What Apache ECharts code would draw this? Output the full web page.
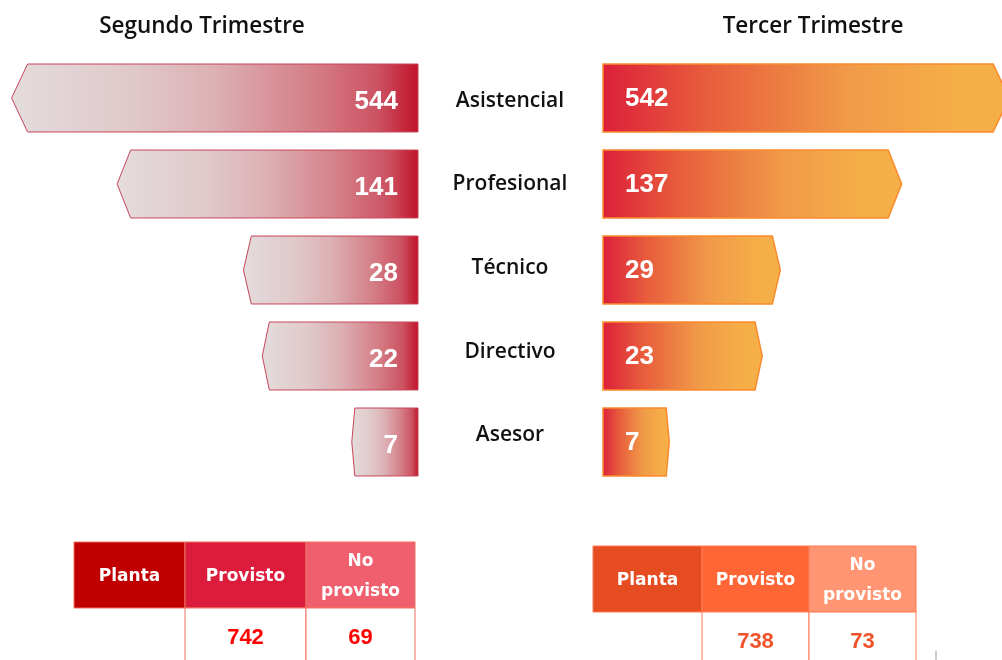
<!DOCTYPE html>
<html>
<head>
<meta charset="utf-8">
<script src="https://cdn.jsdelivr.net/npm/echarts@6/dist/echarts.min.js"></script>
<style>
html,body{margin:0;padding:0;background:#fff;}
#chart{width:1002px;height:660px;}
</style>
</head>
<body>
<div id="chart"></div>
<script>
// ---- Data ----
const categories = ['Asistencial', 'Profesional', 'Técnico', 'Directivo', 'Asesor'];
const segundoValues = [544, 141, 28, 22, 7];
const tercerValues = [542, 137, 29, 23, 7];
const panelTitles = ['Segundo Trimestre', 'Tercer Trimestre'];
const tableHeaders = ['Planta', 'Provisto', 'No\nprovisto'];
const segundoTable = [null, 742, 69];
const tercerTable = [null, 738, 73];

// ---- Styling ----
const AXIS_MIN = 3, AXIS_MAX = 1000;
const leftGradient = [
  {offset: 0, color: '#e4dcdc'},
  {offset: 0.3, color: '#e0c8ca'},
  {offset: 0.5, color: '#dcb0b4'},
  {offset: 0.75, color: '#d47c84'},
  {offset: 0.9, color: '#cc5262'},
  {offset: 1, color: '#c01228'}
];
const rightGradient = [
  {offset: 0, color: '#dc1f3a'},
  {offset: 0.25, color: '#e85c3c'},
  {offset: 0.6, color: '#f09a48'},
  {offset: 0.85, color: '#f5ad48'},
  {offset: 1, color: '#f6b048'}
];
const numFont = '"Liberation Sans", Arial, sans-serif';
const textFont = '"Open Sans", sans-serif';

function arrowRenderer(side) {
  return function (params, api) {
    const v = api.value(0);
    const idx = api.value(1);
    const tip = api.coord([v, idx]);
    const base = api.coord([AXIS_MIN, idx]);
    const h = api.size([0, 1], [100, idx])[1] * 0.79;
    const yc = tip[1];
    const top = yc - h / 2, bot = yc + h / 2;
    const w = Math.abs(tip[0] - base[0]);
    const d = Math.max(3, Math.min(16, w * 0.045));
    const dir = side === 'left' ? 1 : -1;
    const pts = [
      [base[0], top], [tip[0] + dir * d, top], [tip[0], yc],
      [tip[0] + dir * d, bot], [base[0], bot]
    ];
    const shape = {
      type: 'polygon',
      shape: {points: pts},
      style: side === 'left'
        ? {fill: new echarts.graphic.LinearGradient(0, 0, 1, 0, leftGradient), stroke: '#c8465a', lineWidth: 1}
        : {fill: new echarts.graphic.LinearGradient(0, 0, 1, 0, rightGradient), stroke: '#fb8a2c', lineWidth: 1.5}
    };
    const label = {
      type: 'text',
      style: side === 'left'
        ? {text: String(v), x: base[0] - 20, y: yc + 4, align: 'right', verticalAlign: 'middle',
           fill: '#fff', fontSize: 26, fontWeight: 'bold', fontFamily: numFont}
        : {text: String(v), x: base[0] + 22, y: yc + 1, align: 'left', verticalAlign: 'middle',
           fill: '#fff', fontSize: 26, fontWeight: 'bold', fontFamily: numFont}
    };
    return {type: 'group', children: [shape, label]};
  };
}

function buildTable(cols, top, fills, values, valueColor, lineColor) {
  const els = [];
  const hh = 66, rowH = 64;
  for (let i = 0; i < tableHeaders.length; i++) {
    const x = cols[i], w = cols[i + 1] - cols[i];
    els.push({type: 'rect', shape: {x: x, y: top, width: w, height: hh},
      style: {fill: fills[i], stroke: lineColor, lineWidth: 1}});
    els.push({type: 'text', style: {text: tableHeaders[i], x: x + w / 2, y: top + hh / 2 + 2,
      align: 'center', verticalAlign: 'middle', fill: '#fff',
      fontSize: 17, fontWeight: 'bold', fontFamily: '"DejaVu Sans", sans-serif', lineHeight: 30}});
    if (values[i] != null) {
      els.push({type: 'rect', shape: {x: x, y: top + hh, width: w, height: rowH},
        style: {fill: '#fff', stroke: lineColor, lineWidth: 1}});
      els.push({type: 'text', style: {text: String(values[i]), x: x + w / 2, y: top + hh + 30,
        align: 'center', verticalAlign: 'middle', fill: valueColor,
        fontSize: 22, fontWeight: 'bold', fontFamily: numFont}});
    }
  }
  return els;
}

const graphics = [
  {type: 'text', style: {text: panelTitles[0], x: 202, y: 27, align: 'center', verticalAlign: 'middle',
    fill: '#111', fontSize: 22.5, fontWeight: 600, fontFamily: textFont}},
  {type: 'text', style: {text: panelTitles[1], x: 813, y: 27, align: 'center', verticalAlign: 'middle',
    fill: '#111', fontSize: 22.5, fontWeight: 600, fontFamily: textFont}},
  {type: 'line', shape: {x1: 936, y1: 651, x2: 936, y2: 662}, style: {stroke: '#999', lineWidth: 1}}
].concat(
  buildTable([74, 185, 306, 415], 542, ['#c00000', '#dc1c3c', '#ef5f6d'], segundoTable, '#ff0000', '#f2705e'),
  buildTable([593, 702, 809, 916], 546, ['#e54c22', '#ff6535', '#ff9572'], tercerTable, '#f0522a', '#ff7a55')
);

const chart = echarts.init(document.getElementById('chart'), null, {renderer: 'canvas'});
chart.setOption({
  animation: false,
  backgroundColor: '#fff',
  grid: [
    {left: -36, width: 454, top: 55, height: 430, outerBoundsMode: 'none', containLabel: false},
    {left: 603, width: 454, top: 55, height: 430, outerBoundsMode: 'none', containLabel: false},
    {left: 600, width: 10, top: 59, height: 418, outerBoundsMode: 'none', containLabel: false}
  ],
  xAxis: [
    {type: 'log', gridIndex: 0, min: AXIS_MIN, max: AXIS_MAX, inverse: true, show: false},
    {type: 'log', gridIndex: 1, min: AXIS_MIN, max: AXIS_MAX, show: false},
    {type: 'value', gridIndex: 2, show: false}
  ],
  yAxis: [
    {type: 'category', gridIndex: 0, data: categories, inverse: true, show: false},
    {type: 'category', gridIndex: 1, data: categories, inverse: true, show: false},
    {type: 'category', gridIndex: 2, data: categories, inverse: true,
      axisLine: {show: false}, axisTick: {show: false}, splitLine: {show: false},
      axisLabel: {show: true, align: 'center', margin: 90, color: '#111', fontSize: 21,
        fontWeight: 600, fontFamily: textFont}}
  ],
  series: [
    {type: 'custom', xAxisIndex: 0, yAxisIndex: 0, renderItem: arrowRenderer('left'),
      encode: {x: 0, y: 1}, data: segundoValues.map((v, i) => [v, i])},
    {type: 'custom', xAxisIndex: 1, yAxisIndex: 1, renderItem: arrowRenderer('right'),
      encode: {x: 0, y: 1}, data: tercerValues.map((v, i) => [v, i])}
  ],
  graphic: graphics
});
</script>
</body>
</html>
